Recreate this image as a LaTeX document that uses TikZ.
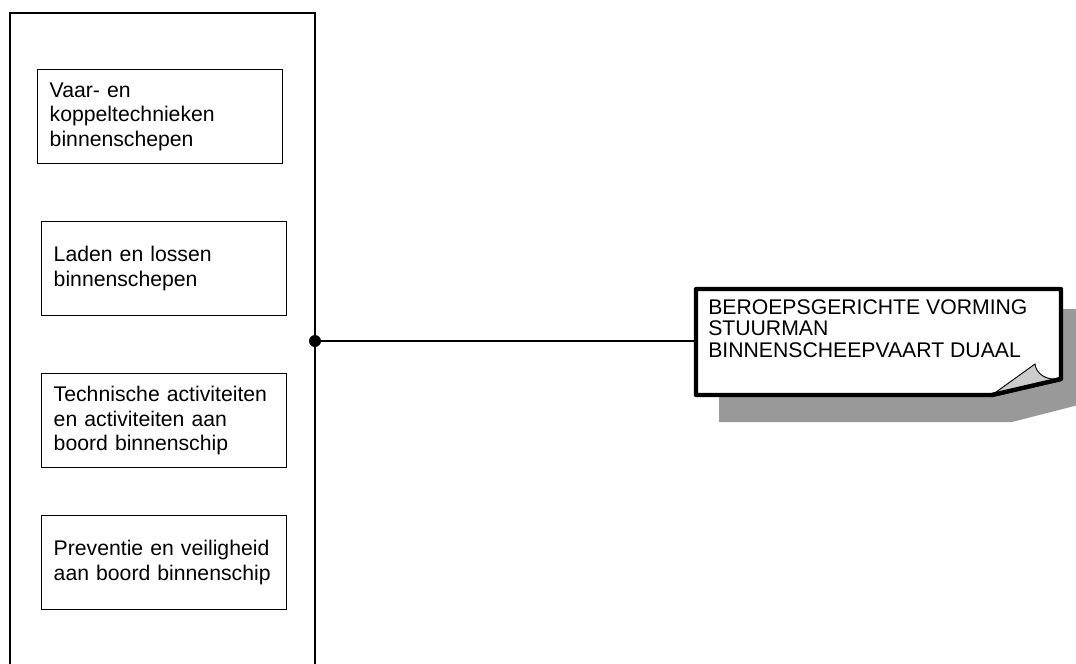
\documentclass[tikz,border=0pt]{standalone}
\usepackage{fontspec}
\setmainfont{Liberation Sans}

\begin{document}
\begin{tikzpicture}[x=0.75pt,y=-0.75pt,
	wire/.style={line width=1.1pt},
	unit/.style={draw,line width=1.1pt,anchor=north west,minimum width=183.75pt,minimum height=70.5pt,
		inner xsep=9pt,inner ysep=0pt,text width=165.75pt,align=left,font=\fontsize{15.9}{18.4}\selectfont},
	notetext/.style={anchor=north west,inner sep=0pt,align=left,font=\fontsize{15.9}{16.2}\selectfont}]
	\useasboundingbox (0,0) rectangle (1076,664);
	\clip (0,0) rectangle (1076,664);

	\draw[wire] (10,700) -- (10,13) -- (315,13) -- (315,700);
	\node[unit] (vaar) at (37,69) {Vaar- en\\koppeltechnieken\\binnenschepen};
	\node[unit] (laden) at (41,221) {Laden en lossen\\binnenschepen};
	\node[unit] (techniek) at (41,373) {Technische activiteiten\\en activiteiten aan\\boord binnenschip};
	\node[unit] (preventie) at (41,515) {Preventie en veiligheid\\aan boord binnenschip};

	% note with shadow and curled corner
	\fill[black!40] (719,309) -- (1090,309) -- (1090,402) -- (1012,422) -- (719,422) -- cycle;
	\draw[line width=3.2pt,line join=round,fill=white] (696,289) -- (1061,289) -- (1061,379) -- (992,395) -- (696,395) -- cycle;
	\filldraw[fill=black!20,line width=0.7pt] (992,395) -- (1035,364) .. controls (1036,373) and (1045,381) .. (1061,379);
	\draw[line width=3.2pt,line cap=round] (992,395) -- (1061,379);
	\node[notetext] (stuurman) at (708,299) {BEROEPSGERICHTE VORMING\\STUURMAN\\BINNENSCHEEPVAART DUAAL};
	\coordinate (frame) at (696,289);

	\coordinate (hub) at (315,341);
	\draw[wire] (hub) -- (hub -| frame);
	\fill (hub) circle[radius=4.5pt];
\end{tikzpicture}
\end{document}
